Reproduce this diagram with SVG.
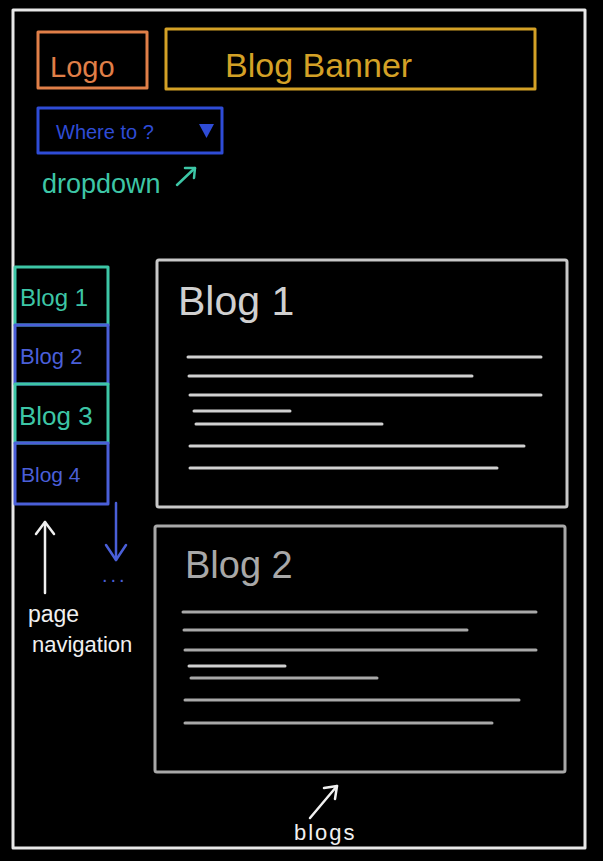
<svg xmlns="http://www.w3.org/2000/svg" width="603" height="861" viewBox="0 0 603 861">
<style>
  .box{fill:none;stroke-width:3;stroke-linejoin:round}
  .t{font-family:"Liberation Sans","DejaVu Sans",sans-serif}
  .ln{stroke-width:3;stroke-linecap:round}
  .l1{stroke:#d0d0d0}
  .l2{stroke:#a8a8a8}
</style>
<rect width="603" height="861" fill="#000"/>
<rect id="frame" x="13" y="10" width="572" height="838" class="box" stroke="#e8e8e8"/>

<g id="logo">
  <rect x="38" y="32" width="109" height="56" class="box" stroke="#e07f48"/>
  <text x="50" y="77" class="t" font-size="29" fill="#e07f48">Logo</text>
</g>
<g id="banner">
  <rect x="166" y="29" width="369" height="60" class="box" stroke="#d4a126"/>
  <text x="225" y="77" class="t" font-size="34" fill="#d4a126">Blog Banner</text>
</g>
<g id="dropdown">
  <rect x="38" y="108" width="184" height="45" class="box" stroke="#2f4cd6"/>
  <text x="56" y="139" class="t" font-size="20" fill="#2f4cd6">Where to ?</text>
  <path d="M199,124 L214,124 L206.5,138 Z" fill="#2f4cd6"/>
</g>
<g id="dropdown-label">
  <text x="42" y="193" class="t" font-size="27" fill="#3dc6a6">dropdown</text>
</g>

<g id="nav">
  <g id="nav1">
    <rect x="15" y="267" width="93" height="58" class="box" stroke="#3dc6a6"/>
    <text x="20" y="306" class="t" font-size="24" fill="#3dc6a6">Blog 1</text>
  </g>
  <g id="nav2">
    <rect x="15" y="325" width="93" height="59" class="box" stroke="#4a5fd8"/>
    <text x="20" y="364" class="t" font-size="22" fill="#4a5fd8">Blog 2</text>
  </g>
  <g id="nav3">
    <rect x="15" y="384" width="93" height="59" class="box" stroke="#3dc6a6"/>
    <text x="19" y="425" class="t" font-size="26" fill="#3dc6a6">Blog 3</text>
  </g>
  <g id="nav4">
    <rect x="15" y="443" width="93" height="61" class="box" stroke="#4a5fd8"/>
    <text x="21" y="482" class="t" font-size="21" fill="#4a5fd8">Blog 4</text>
  </g>
</g>
<g id="more">
  <text x="102" y="582" class="t" font-size="20" fill="#4a5fd8" letter-spacing="3">...</text>
</g>
<g id="nav-label">
  <text x="28" y="622" class="t" font-size="23" fill="#f0f0f0">page</text>
  <text x="32" y="652" class="t" font-size="22" fill="#f0f0f0">navigation</text>
</g>

<g id="blog1">
  <rect x="157" y="260" width="410" height="247" rx="2" class="box" stroke="#c8c8c8"/>
  <text x="178" y="315" class="t" font-size="41" fill="#d0d0d0">Blog 1</text>
  <line x1="188" y1="357" x2="541" y2="357" class="ln l1"/>
  <line x1="189" y1="376" x2="472" y2="376" class="ln l1"/>
  <line x1="190" y1="395" x2="541" y2="395" class="ln l1"/>
  <line x1="194" y1="411" x2="290" y2="411" class="ln l1"/>
  <line x1="196" y1="424" x2="382" y2="424" class="ln l1"/>
  <line x1="190" y1="446" x2="524" y2="446" class="ln l1"/>
  <line x1="190" y1="468" x2="497" y2="468" class="ln l1"/>
</g>
<g id="blog2">
  <rect x="155" y="526" width="410" height="246" rx="2" class="box" stroke="#a8a8a8"/>
  <text x="185" y="578" class="t" font-size="38" fill="#a8a8a8">Blog 2</text>
  <line x1="183" y1="612" x2="536" y2="612" class="ln l2"/>
  <line x1="184" y1="630" x2="467" y2="630" class="ln l2"/>
  <line x1="185" y1="650" x2="536" y2="650" class="ln l2"/>
  <line x1="189" y1="666" x2="285" y2="666" class="ln l1"/>
  <line x1="191" y1="678" x2="377" y2="678" class="ln l2"/>
  <line x1="185" y1="700" x2="519" y2="700" class="ln l2"/>
  <line x1="185" y1="723" x2="492" y2="723" class="ln l2"/>
</g>
<g id="blogs-label">
  <text x="294" y="840" class="t" font-size="22" fill="#f0f0f0" letter-spacing="2">blogs</text>
</g>

<g id="connectors" fill="none" stroke-width="2.5" stroke-linecap="round" stroke-linejoin="round">
  <g id="c-dropdown" stroke="#3dc6a6">
    <line x1="177" y1="185" x2="195" y2="168"/>
    <polyline points="185,168 195,168 194,178"/>
  </g>
  <g id="c-up" stroke="#f0f0f0">
    <line x1="45" y1="593" x2="45" y2="522"/>
    <polyline points="36,534 45,522 54,534"/>
  </g>
  <g id="c-down" stroke="#4a5fd8">
    <line x1="116" y1="503" x2="116" y2="560"/>
    <polyline points="106,545 116,560 126,545"/>
  </g>
  <g id="c-blogs" stroke="#f0f0f0">
    <line x1="310" y1="818" x2="337" y2="786"/>
    <polyline points="324,788 337,786 335,799"/>
  </g>
</g>
</svg>
